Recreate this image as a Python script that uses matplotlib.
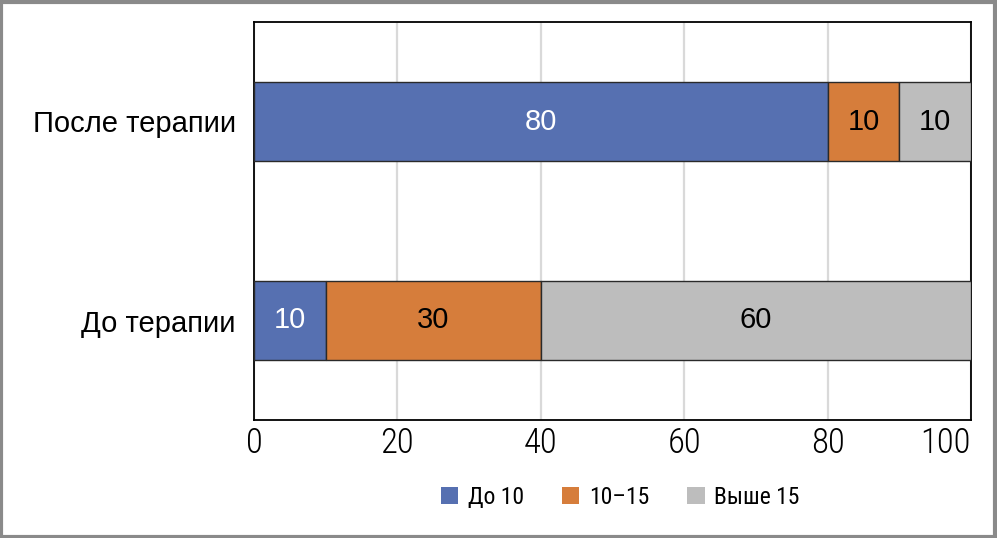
import matplotlib
matplotlib.use("Agg")
import matplotlib.pyplot as plt
from matplotlib import font_manager
from matplotlib.patches import Rectangle, Patch

categories = ["До терапии", "После терапии"]
series_names = ["До 10", "10–15", "Выше 15"]
values_upto10 = [10, 80]
values_10_15 = [30, 10]
values_above15 = [60, 10]
xticks = [0, 20, 40, 60, 80, 100]
colors = ["#5670B1", "#D67D3B", "#BDBDBD"]
label_colors = ["white", "black", "black"]

available = {f.name for f in font_manager.fontManager.ttflist}
narrow = "DejaVu Sans"
for cand in ["Liberation Sans Narrow", "Roboto Condensed", "DejaVu Sans Condensed", "Liberation Sans"]:
    if cand in available:
        narrow = cand
        break
narrow_weights = {f.weight for f in font_manager.fontManager.ttflist if f.name == narrow}
narrow_w = 300 if any(isinstance(w, int) and w <= 300 for w in narrow_weights) else "normal"
regular = "Liberation Sans" if "Liberation Sans" in available else "DejaVu Sans"
plt.rcParams["font.family"] = [regular, "DejaVu Sans"]

fig = plt.figure(figsize=(9.97, 5.38), dpi=100)
ax = fig.add_axes([254/997, 1-420/538, (971-254)/997, (420-22)/538])

series = [values_upto10, values_10_15, values_above15]
left = [0, 0]
ypos = list(range(len(categories)))
for vals, col, lc, name in zip(series, colors, label_colors, series_names):
    bars = ax.barh(ypos, vals, left=left, height=0.4, color=col,
                   edgecolor="#2a2a2a", linewidth=1, zorder=3, label=name)
    for b, v in zip(bars, vals):
        ax.text(b.get_x() + b.get_width()/2, b.get_y() + b.get_height()/2, f"{v}",
                ha="center", va="center", color=lc, fontsize=21, zorder=4,
                family=[regular, "DejaVu Sans"])
    left = [l + v for l, v in zip(left, vals)]

ax.set_xlim(0, 100)
ax.set_ylim(-0.5, 1.5)
ax.set_xticks(xticks)
xl = ax.set_xticklabels([str(t) for t in xticks], fontsize=25,
                        family=[narrow, "DejaVu Sans"], fontweight=narrow_w)
xl[-1].set_ha("right")
ax.set_yticks(ypos)
ax.set_yticklabels(categories, fontsize=21, family=[regular, "DejaVu Sans"])
ax.tick_params(axis="y", length=0, pad=13)
ax.tick_params(axis="x", length=0, pad=5)
ax.grid(axis="x", color="#D9D9D9", linewidth=1.6, zorder=0)
ax.set_axisbelow(True)
for s in ax.spines.values():
    s.set_color("black")
    s.set_linewidth(1.3)

handles = [Patch(facecolor=c, edgecolor="none") for c in colors]
fig.legend(handles, series_names, loc="center", bbox_to_anchor=(620/997, 1-497/538),
           ncol=3, frameon=False,
           prop={"family": [narrow, "DejaVu Sans"], "size": 17},
           handlelength=0.75, handleheight=0.75, handletextpad=0.4, columnspacing=1.6)

fig.patches.append(Rectangle((0.001, 0.002), 0.997, 0.995, transform=fig.transFigure,
                             fill=False, edgecolor="#8a8a8a", linewidth=3))

fig.savefig("out.png", dpi=100)
